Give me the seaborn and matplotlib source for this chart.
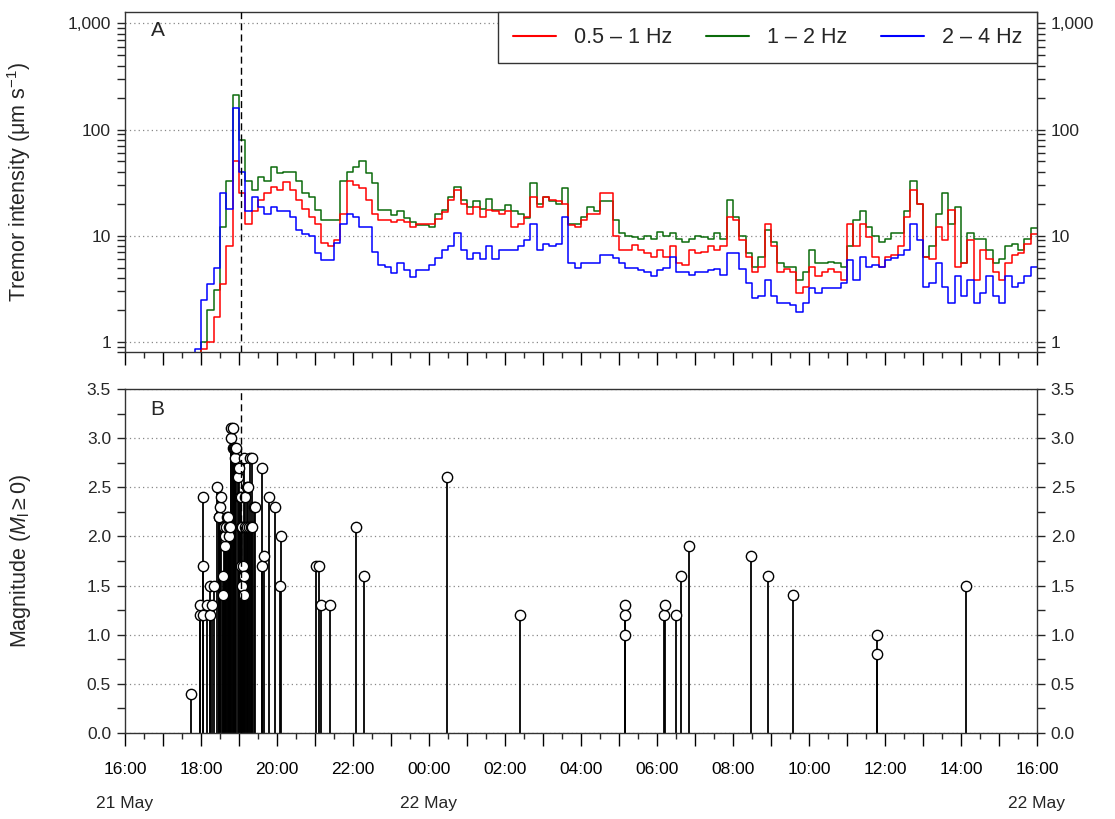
import numpy as np
import pandas as pd
import seaborn as sns
import matplotlib
matplotlib.use("Agg")
import matplotlib.pyplot as plt
import matplotlib.dates as mdates
import matplotlib.ticker as mticker
import matplotlib.transforms as mtransforms
from matplotlib.lines import Line2D

# tremor intensity, 10 min steps starting 21 May 17:40 (um/s)
tremor_start = "2011-05-21 17:40"
red = [0.5, 0.6, 0.85, 1.0, 1.7, 3.5, 8, 50, 25, 13,
       17, 21.7, 25, 28.6, 27, 32, 27, 21.7, 18, 15,
       13, 8.5, 7.9, 9, 16, 33, 30, 28, 21.7, 16,
       14, 14, 13.5, 14, 13.5, 12, 13, 13, 13, 14.2,
       16.8, 21.7, 27, 20, 16, 18.7, 15, 17.5, 17, 16,
       17, 12, 13, 15, 23, 18.7, 23, 21.7, 21, 20,
       12.5, 12, 14, 16, 16, 25, 25, 10, 7.3, 7.3,
       8.1, 7.3, 6.8, 6.3, 7.3, 6.3, 7.9, 5.5, 5.3, 7.3,
       6.8, 7, 7.9, 7.3, 7.9, 15, 14, 9, 6.3, 4.5,
       5.1, 13, 7.9, 4.5, 4.8, 4.5, 2.9, 3.3, 5.1, 4.2,
       4.5, 4.8, 4.5, 3.8, 13, 7.9, 13, 9.7, 6.3, 5.1,
       6.3, 6.5, 7.9, 15, 27, 20, 6.3, 6, 12, 9,
       17.5, 5.1, 5.5, 9, 3.8, 7.3, 6, 4.5, 3.8, 5.5,
       6.5, 6.8, 8.4, 10.3]
green = [0.5, 0.7, 1.0, 2.0, 3.1, 12, 33, 210, 80, 33,
         27, 36, 33, 44, 39, 40, 40, 33, 25, 23,
         17.5, 14, 14, 14, 33, 40, 44, 51, 39, 31,
         17.5, 17.5, 15.6, 17, 14.5, 13.5, 12.6, 12.6, 12, 16,
         17.5, 23, 29, 21.7, 18.7, 21, 18, 22, 17.5, 17.5,
         19.5, 17, 16, 14.5, 31, 20, 23, 21, 20, 28,
         13, 13, 15, 18.7, 17, 21, 21, 14, 10.6, 10,
         9.7, 9.3, 10, 9.3, 10.8, 10, 10.6, 9.3, 8.8, 9.3,
         10, 9.7, 9.3, 10.6, 9.3, 21.7, 15, 10, 6.8, 5.1,
         6.3, 11.3, 8.8, 5.5, 5.1, 5.1, 3.8, 4.5, 7.3, 5.5,
         5.5, 5.7, 5.5, 5.1, 7.9, 14, 17, 12, 10, 8.8,
         9.3, 10.6, 10.6, 17, 33, 20, 6.3, 7.9, 16, 25,
         13, 18.7, 5.5, 10.6, 9.3, 9.3, 7.3, 5.5, 6, 7.9,
         8.4, 7.3, 9.3, 11.8]
blue = [0.6, 0.85, 2.5, 3.5, 5, 25, 18, 160, 40, 17,
        23, 18.7, 16, 18.7, 17, 17, 15, 11.3, 10.3, 10,
        6.8, 5.9, 5.9, 8.5, 13, 16, 15, 12, 12, 7,
        5.3, 5.1, 4.4, 5.5, 4.7, 4.1, 4.7, 4.7, 5.3, 6.1,
        7.3, 7.9, 10.6, 7.3, 6, 6.8, 6, 7.9, 6, 7.3,
        7.3, 7.3, 7.9, 9, 13, 7.3, 8.4, 7.9, 8.4, 15,
        5.5, 5, 5.5, 5.5, 5.5, 6.5, 6.5, 6.1, 5.5, 5,
        5, 4.7, 4.5, 4.2, 4.7, 5, 6.3, 4.5, 4.5, 4.3,
        4.5, 4.5, 4.7, 4.8, 4.3, 6.8, 6.8, 4.8, 3.6, 2.6,
        2.7, 3.8, 2.7, 2.3, 2.3, 2.2, 1.9, 2.3, 3.2, 2.9,
        3.2, 3.2, 3.2, 3.6, 5.9, 3.8, 6.3, 5.1, 5.3, 5.1,
        5.9, 6.1, 6.5, 7.3, 13, 9, 3.3, 3.6, 5.5, 3.3,
        2.3, 4.2, 2.7, 3.8, 2.3, 2.9, 4.2, 2.7, 2.3, 4.2,
        3.3, 3.6, 4.2, 5.1]
bands = ["0.5 – 1 Hz", "1 – 2 Hz", "2 – 4 Hz"]
band_colors = ["#ff0000", "#0b6b0b", "#0000ff"]

# earthquakes (Ml >= 0)
quake_time = ["05-21 17:44", "05-21 17:58", "05-21 17:58", "05-21 18:03", "05-21 18:03",
              "05-21 18:03", "05-21 18:10", "05-21 18:15", "05-21 18:15", "05-21 18:18",
              "05-21 18:21", "05-21 18:26", "05-21 18:28", "05-21 18:29", "05-21 18:30",
              "05-21 18:32", "05-21 18:34", "05-21 18:34", "05-21 18:36", "05-21 18:38",
              "05-21 18:38", "05-21 18:40", "05-21 18:41", "05-21 18:43", "05-21 18:44",
              "05-21 18:45", "05-21 18:46", "05-21 18:47", "05-21 18:48", "05-21 18:50",
              "05-21 18:51", "05-21 18:52", "05-21 18:53", "05-21 18:54", "05-21 18:56",
              "05-21 18:58", "05-21 19:00", "05-21 19:01", "05-21 19:03", "05-21 19:03",
              "05-21 19:03", "05-21 19:05", "05-21 19:05", "05-21 19:06", "05-21 19:08",
              "05-21 19:08", "05-21 19:08", "05-21 19:10", "05-21 19:10", "05-21 19:12",
              "05-21 19:13", "05-21 19:14", "05-21 19:16", "05-21 19:18", "05-21 19:19",
              "05-21 19:20", "05-21 19:21", "05-21 19:23", "05-21 19:25", "05-21 19:36",
              "05-21 19:37", "05-21 19:39", "05-21 19:47", "05-21 19:57", "05-21 20:05",
              "05-21 20:07", "05-21 21:02", "05-21 21:07", "05-21 21:09", "05-21 21:24",
              "05-21 22:04", "05-21 22:17", "05-22 00:28", "05-22 02:24", "05-22 05:09",
              "05-22 05:09", "05-22 05:09", "05-22 06:11", "05-22 06:13", "05-22 06:30",
              "05-22 06:38", "05-22 06:51", "05-22 08:28", "05-22 08:55", "05-22 09:35",
              "05-22 11:48", "05-22 11:48", "05-22 14:08"]
quake_mag = [0.4, 1.2, 1.3, 2.4, 1.7,
             1.2, 1.3, 1.2, 1.5, 1.3,
             1.5, 2.5, 2.2, 2.2, 2.3,
             2.4, 1.6, 1.4, 2.1, 1.9,
             2.0, 2.1, 2.2, 2.2, 2.1,
             2.0, 2.1, 3.0, 3.1, 2.9,
             3.1, 2.9, 2.8, 2.9, 2.9,
             2.6, 2.7, 2.4, 2.4, 2.1,
             1.7, 1.5, 2.1, 1.7, 2.8,
             1.6, 1.4, 2.4, 2.1, 2.1,
             2.5, 2.5, 2.1, 2.8, 2.1,
             2.8, 2.1, 2.3, 2.3, 2.7,
             1.7, 1.8, 2.4, 2.3, 1.5,
             2.0, 1.7, 1.7, 1.3, 1.3,
             2.1, 1.6, 2.6, 1.2, 1.3,
             1.2, 1.0, 1.2, 1.3, 1.2,
             1.6, 1.9, 1.8, 1.6, 1.4,
             1.0, 0.8, 1.5]

eruption_onset = pd.Timestamp("2011-05-21 19:03")
x_start = pd.Timestamp("2011-05-21 16:00")
x_end = pd.Timestamp("2011-05-22 16:00")
date_labels = [("2011-05-21 16:00", "21 May"), ("2011-05-22 00:00", "22 May"),
               ("2011-05-22 16:00", "22 May")]

sns.set_style("ticks")
plt.rcParams["font.family"] = ["Liberation Sans", "DejaVu Sans"]
plt.rcParams["mathtext.fontset"] = "custom"
plt.rcParams["mathtext.rm"] = "Liberation Sans"
plt.rcParams["mathtext.it"] = "Liberation Sans:italic"
plt.rcParams["axes.edgecolor"] = "#333333"
plt.rcParams["axes.linewidth"] = 1.0

# long table for seaborn, last value repeated so the final step reaches 16:00
times = pd.date_range(tremor_start, periods=len(red) + 1, freq="10min")
frames = []
for name, vals in zip(bands, [red, green, blue]):
    frames.append(pd.DataFrame({"time": times, "value": list(vals) + [vals[-1]], "band": name}))
tremor = pd.concat(frames, ignore_index=True)

quakes = pd.DataFrame({"time": pd.to_datetime(["2011-" + t for t in quake_time]),
                       "mag": quake_mag})

fig = plt.figure(figsize=(11.15, 8.19), dpi=100)
ax1 = fig.add_axes([0.1121, 0.5702, 0.8179, 0.4151])
ax2 = fig.add_axes([0.1121, 0.1050, 0.8179, 0.4200])

# --- panel A
sns.lineplot(data=tremor, x="time", y="value", hue="band",
             hue_order=[bands[1], bands[0], bands[2]],
             palette=dict(zip(bands, band_colors)),
             drawstyle="steps-post", linewidth=1.1, estimator=None,
             legend=False, ax=ax1)
ax1.set_yscale("log")
ax1.set_ylim(0.8, 1280)
ax1.yaxis.set_major_locator(mticker.FixedLocator([1, 10, 100, 1000]))
ax1.yaxis.set_minor_locator(mticker.LogLocator(subs=np.arange(2, 10)))
ax1.yaxis.set_major_formatter(mticker.FuncFormatter(lambda v, p: f"{v:,.0f}"))
ax1.yaxis.set_minor_formatter(mticker.NullFormatter())
ax1.set_ylabel("Tremor intensity (μm s$^{-1}$)", fontsize=15.5)
ax1.yaxis.set_label_coords(-0.101, 0.5)
ax1.set_xlabel("")

handles = [Line2D([], [], color=c, lw=1.5) for c in band_colors]
leg = ax1.legend(handles, bands, loc="upper right", ncol=3, fontsize=15.5,
                 frameon=True, fancybox=False, framealpha=1, edgecolor="#333333",
                 borderaxespad=0, borderpad=0.7, handlelength=2.0,
                 columnspacing=1.6, handletextpad=0.8)
leg.get_frame().set_linewidth(1.0)
ax1.text(0.028, 0.945, "A", transform=ax1.transAxes, fontsize=15, va="center")

# --- panel B
ax2.vlines(quakes["time"], 0, quakes["mag"], color="black", lw=1.3, zorder=2)
sns.scatterplot(data=quakes, x="time", y="mag", marker="o", s=55,
                facecolor="white", edgecolor="black", linewidth=1.0,
                zorder=3, ax=ax2)
ax2.set_ylim(0, 3.5)
ax2.yaxis.set_major_locator(mticker.MultipleLocator(0.5))
ax2.yaxis.set_minor_locator(mticker.MultipleLocator(0.25))
ax2.yaxis.set_major_formatter(mticker.FormatStrFormatter("%.1f"))
ax2.set_ylabel(r"Magnitude ($M_\mathrm{l} \geq 0$)", fontsize=15.5)
ax2.yaxis.set_label_coords(-0.101, 0.5)
ax2.set_xlabel("")
ax2.text(0.028, 0.94, "B", transform=ax2.transAxes, fontsize=15, va="center")

def even_hours(v, pos):
    d = mdates.num2date(v)
    return d.strftime("%H:%M") if d.hour % 2 == 0 else ""

for ax in (ax1, ax2):
    ax.set_xlim(x_start, x_end)
    ax.xaxis.set_major_locator(mdates.HourLocator(interval=1))
    ax.xaxis.set_minor_locator(mdates.MinuteLocator(byminute=[30]))
    ax.xaxis.set_major_formatter(mticker.FuncFormatter(even_hours))
    ax.tick_params(axis="x", which="major", direction="out", length=9, width=1,
                   labelsize=12.5, pad=12, colors="black")
    ax.tick_params(axis="x", which="minor", direction="out", length=4.5, width=1)
    ax.tick_params(axis="y", which="both", direction="out", length=6, width=1,
                   left=True, right=True, labelleft=True, labelright=True,
                   labelsize=12.5, pad=4)
    ax.yaxis.grid(True, which="major", linestyle=(0, (1, 2.5)), color="#888888", lw=0.9)
    ax.xaxis.grid(False)
    ax.axvline(eruption_onset, color="black", ls=(0, (5, 3)), lw=1.0, zorder=4)
    for s in ax.spines.values():
        s.set_visible(True)

ax1.tick_params(axis="x", labelbottom=False)

trans = mtransforms.blended_transform_factory(ax2.transData, ax2.transAxes)
for t, lab in date_labels:
    ax2.text(mdates.date2num(pd.Timestamp(t)), -0.205, lab, transform=trans,
             ha="center", va="center", fontsize=12.5)

fig.savefig("out.png", dpi=100)
